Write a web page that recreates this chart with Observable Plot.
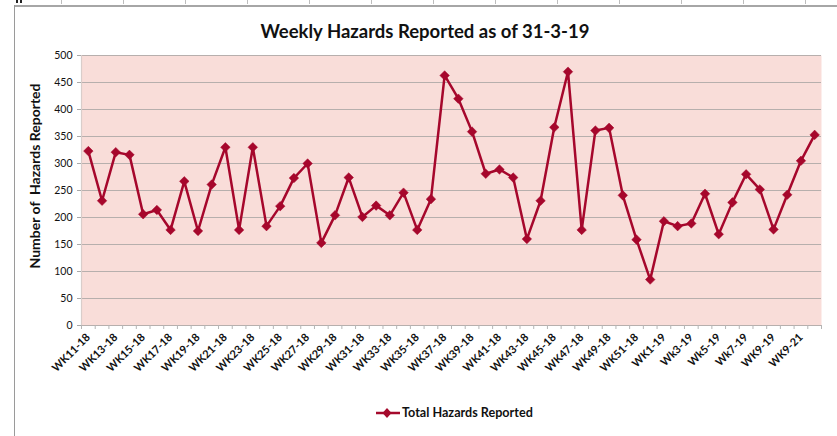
<!DOCTYPE html>
<html>
<head>
<meta charset="utf-8">
<script src="https://cdn.jsdelivr.net/npm/d3@7"></script>
<script src="https://cdn.jsdelivr.net/npm/@observablehq/plot@0.6"></script>
<style>
  html, body { margin: 0; padding: 0; background: #fff; }
  #wrap { position: relative; width: 837px; height: 436px; overflow: hidden; font-family: Lato, "Open Sans", sans-serif; }
  #chart { position: absolute; left: 0; top: 0; }
  #cells { position: absolute; left: 0; top: 0; width: 837px; height: 4px;
    background: repeating-linear-gradient(90deg, transparent 0, transparent 61px, #bdbdbd 61px, #bdbdbd 62px); }
  #topline { position: absolute; left: 14px; top: 5px; width: 823px; height: 2px; background: #a6a6a6; }
  #leftline { position: absolute; left: 14px; top: 5px; width: 1px; height: 431px; background: #9a9a9a; }
  #mark { position: absolute; left: 16px; top: 0; width: 6px; height: 3px; border-left: 2px solid #222; border-right: 2px solid #222; box-sizing: border-box; }
  #title { position: absolute; left: 0; width: 850px; top: 20px; text-align: center; font-weight: bold; font-size: 18.5px; color: #111; }
  #ytitle { position: absolute; left: 34px; top: 176px; transform: translate(-50%, -50%) rotate(-90deg); white-space: pre; font-weight: bold; font-size: 14px; color: #111; }
  #legend { position: absolute; left: 376px; top: 405px; display: flex; align-items: center; font-weight: bold; font-size: 12.6px; color: #111; }
  #legend svg { margin-right: 2px; }
</style>
</head>
<body>
<div id="wrap">
  <div id="chart"></div>
  <div id="cells"></div>
  <div id="mark"></div>
  <div id="topline"></div>
  <div id="leftline"></div>
  <div id="title">Weekly Hazards Reported as of 31-3-19</div>
  <div id="ytitle">Number of  Hazards Reported</div>
  <div id="legend"><svg width="24" height="12"><line x1="0" y1="6" x2="24" y2="6" stroke="#a50a2c" stroke-width="2.5"/><path d="M11,1 L15.5,6 L11,11 L6.5,6 Z" fill="#a50a2c"/></svg><span>Total Hazards Reported</span></div>
</div>
<script>
const weeks = [
  "WK11-18","WK12-18","WK13-18","WK14-18","WK15-18","WK16-18","WK17-18","WK18-18","WK19-18","WK20-18",
  "WK21-18","WK22-18","WK23-18","WK24-18","WK25-18","WK26-18","WK27-18","WK28-18","WK29-18","WK30-18",
  "WK31-18","WK32-18","WK33-18","WK34-18","WK35-18","WK36-18","WK37-18","WK38-18","WK39-18","WK40-18",
  "WK41-18","WK42-18","WK43-18","WK44-18","WK45-18","WK46-18","WK47-18","WK48-18","WK49-18","WK50-18",
  "WK51-18","WK52-18","WK1-19","WK2-19","Wk3-19","Wk4-19","Wk5-19","Wk6-19","Wk7-19","Wk8-19",
  "WK9-19","WK10-19","WK9-21","WK12-19"
];
const hazards = [
  323, 231, 321, 316, 206, 214, 177, 267, 175, 261,
  330, 177, 330, 184, 221, 273, 300, 153, 204, 274,
  201, 222, 204, 246, 177, 234, 463, 420, 359, 281,
  289, 274, 160, 231, 367, 470, 177, 361, 366, 241,
  159, 85, 193, 184, 189, 244, 169, 228, 280, 252,
  178, 242, 305, 353
];
const yTicks = [0, 50, 100, 150, 200, 250, 300, 350, 400, 450, 500];

const data = weeks.map((w, i) => ({i, week: w, value: hazards[i]}));
const xDomain = [-0.5, weeks.length - 0.5];
const boundaries = d3.range(weeks.length + 1).map(k => k - 0.5);
const labelled = d3.range(0, weeks.length, 2).filter(i => i <= 52);
const red = "#a6072c";

const chart = Plot.plot({
  width: 837,
  height: 436,
  marginLeft: 81,
  marginRight: 16,
  marginTop: 55,
  marginBottom: 111,
  x: {type: "linear", domain: xDomain},
  y: {domain: [0, 500]},
  style: {fontFamily: "Lato, 'Open Sans', sans-serif", color: "#111", background: "transparent"},
  marks: [
    Plot.frame({fill: "#f9ddd9", stroke: null}),
    Plot.gridY(yTicks, {stroke: "#b7afad", strokeOpacity: 1, strokeWidth: 1.2}),
    Plot.ruleX([xDomain[0]], {stroke: "#d9cdca", strokeWidth: 1.2}),
    Plot.axisY(yTicks, {tickSize: 4, tickPadding: 5, label: null, fontSize: 10.5, stroke: "#a9a9a9"}),
    Plot.axisX(boundaries, {tickSize: 4, tickFormat: () => "", label: null, stroke: "#b5b5b5"}),
    Plot.axisX(labelled, {tickSize: 0, tickPadding: 10, tickRotate: -45, tickFormat: i => weeks[i], label: null, fontSize: 11, fontWeight: "bold"}),
    Plot.line(data, {x: "i", y: "value", stroke: red, strokeWidth: 2.5}),
    Plot.dot(data, {x: "i", y: "value", symbol: "diamond2", r: 4.3, fill: red, stroke: red, strokeWidth: 0.5})
  ]
});
document.getElementById("chart").appendChild(chart);
</script>
</body>
</html>
